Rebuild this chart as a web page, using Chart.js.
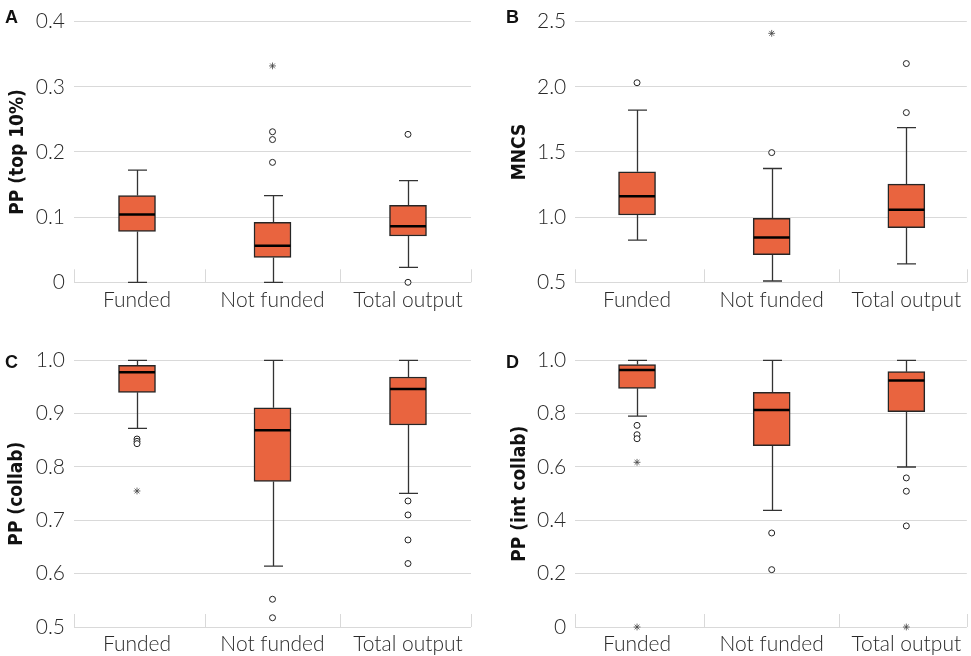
<!DOCTYPE html>
<html>
<head>
<meta charset="utf-8">
<title>Bibliometric indicators: funded vs not funded</title>
<script src="https://cdn.jsdelivr.net/npm/chart.js@4.4.1/dist/chart.umd.min.js"></script>
<style>
  html, body { margin: 0; padding: 0; background: #fff; width: 971px; height: 656px; overflow: hidden; }
  canvas { position: absolute; }
</style>
</head>
<body>
<canvas id="chartA" width="485" height="328" style="left:0;top:0"></canvas>
<canvas id="chartB" width="486" height="328" style="left:485px;top:0"></canvas>
<canvas id="chartC" width="485" height="328" style="left:0;top:328px"></canvas>
<canvas id="chartD" width="486" height="328" style="left:485px;top:328px"></canvas>
<script>
// Groups shown on every panel
const categories = ['Funded', 'Not funded', 'Total output'];

// A: PP (top 10%)
const lowA = [0, 0, 0.023];
const q1A = [0.078, 0.038, 0.071];
const medA = [0.104, 0.056, 0.086];
const q3A = [0.133, 0.092, 0.118];
const highA = [0.172, 0.133, 0.156];
const outA = [[], [0.231, 0.219, 0.184], [0.227, 0]];
const extA = [[], [0.332], []];
const ticksA = ['0', '0.1', '0.2', '0.3', '0.4'];

// B: MNCS
const lowB = [0.824, 0.51, 0.642];
const q1B = [1.016, 0.712, 0.919];
const medB = [1.161, 0.844, 1.056];
const q3B = [1.348, 0.991, 1.253];
const highB = [1.821, 1.373, 1.687];
const outB = [[2.031], [1.495], [2.178, 1.802]];
const extB = [[], [2.41], []];
const ticksB = ['0.5', '1.0', '1.5', '2.0', '2.5'];

// C: PP (collab)
const lowC = [0.8725, 0.614, 0.7506];
const q1C = [0.94, 0.773, 0.8787];
const medC = [0.9775, 0.869, 0.9462];
const q3C = [0.9906, 0.911, 0.9687];
const highC = [1.0, 1.0, 1.0];
const outC = [[0.8524, 0.848, 0.8437], [0.552, 0.5174], [0.7363, 0.7101, 0.6632, 0.619]];
const extC = [[0.755], [], []];
const ticksC = ['0.5', '0.6', '0.7', '0.8', '0.9', '1.0'];

// D: PP (int collab)
const lowD = [0.791, 0.4375, 0.60];
const q1D = [0.895, 0.68, 0.8075];
const medD = [0.964, 0.814, 0.924];
const q3D = [0.984, 0.88, 0.9575];
const highD = [1.0, 1.0, 1.0];
const outD = [[0.756, 0.721, 0.706], [0.3525, 0.215], [0.559, 0.509, 0.379]];
const extD = [[0.6175, 0], [], [0]];
const ticksD = ['0', '0.2', '0.4', '0.6', '0.8', '1.0'];

const BOX_FILL = '#E9643F';
const INK = '#262626';
const GRID = '#d9d9d9';
const TICK_FONT = { family: 'Lato, "Open Sans", sans-serif', size: 21, weight: 300 };
const TITLE_FONT = { family: '"Liberation Sans Narrow", "DejaVu Sans Condensed", "Liberation Sans", sans-serif', size: 19, weight: 'bold' };

// Whiskers, caps, medians, category separators and the panel letter
const boxExtras = {
  id: 'boxExtras',
  beforeDatasetsDraw(chart, args, o) {
    const { ctx, chartArea } = chart;
    const x = chart.scales.x, y = chart.scales.y;
    ctx.save();
    // short separators rising from the baseline
    ctx.strokeStyle = GRID;
    ctx.lineWidth = 1;
    [x.min, 0.5, 1.5, x.max].forEach(v => {
      const px = Math.round(x.getPixelForValue(v)) + 0.5;
      ctx.beginPath();
      ctx.moveTo(px, chartArea.bottom - 13);
      ctx.lineTo(px, chartArea.bottom);
      ctx.stroke();
    });
    // whiskers and caps
    ctx.strokeStyle = '#333';
    ctx.lineWidth = 1.3;
    categories.forEach((c, i) => {
      const cx = Math.round(x.getPixelForValue(i)) + 0.5;
      const yl = y.getPixelForValue(o.low[i]), yh = y.getPixelForValue(o.high[i]);
      const y1 = y.getPixelForValue(o.q1[i]), y3 = y.getPixelForValue(o.q3[i]);
      ctx.beginPath();
      ctx.moveTo(cx, yl); ctx.lineTo(cx, y1);
      ctx.moveTo(cx, y3); ctx.lineTo(cx, yh);
      ctx.moveTo(cx - 9.5, yl); ctx.lineTo(cx + 9.5, yl);
      ctx.moveTo(cx - 9.5, yh); ctx.lineTo(cx + 9.5, yh);
      ctx.stroke();
    });
    ctx.restore();
  },
  afterDatasetsDraw(chart, args, o) {
    const { ctx } = chart;
    const x = chart.scales.x, y = chart.scales.y;
    ctx.save();
    ctx.strokeStyle = '#000';
    ctx.lineWidth = 2.5;
    categories.forEach((c, i) => {
      const cx = x.getPixelForValue(i);
      const ym = y.getPixelForValue(o.med[i]);
      ctx.beginPath();
      ctx.moveTo(cx - 18, ym); ctx.lineTo(cx + 18, ym);
      ctx.stroke();
    });
    ctx.fillStyle = '#111';
    ctx.font = 'bold 18px "Liberation Sans", Arial, sans-serif';
    ctx.textBaseline = 'alphabetic';
    ctx.fillText(o.letter, o.lx, o.ly);
    ctx.restore();
  }
};

function drawPanel(id, p) {
  const boxes = categories.map((c, i) => ({ x: i, y: [p.q1[i], p.q3[i]] }));
  const circles = p.out.flatMap((vals, i) => vals.map(v => ({ x: i, y: v })));
  const stars = p.ext.flatMap((vals, i) => vals.map(v => ({ x: i, y: v })));
  new Chart(document.getElementById(id), {
    type: 'bar',
    data: {
      datasets: [
        { type: 'bar', data: boxes, backgroundColor: BOX_FILL, borderColor: INK, borderWidth: 1.5,
          borderSkipped: false, barThickness: 37 },
        { type: 'scatter', data: circles, pointStyle: 'circle', pointRadius: 3, pointHoverRadius: 3,
          backgroundColor: '#fff', borderColor: '#222', borderWidth: 1, clip: false },
        { type: 'scatter', data: stars, pointStyle: 'star', pointRadius: 3.4, pointHoverRadius: 3.4,
          backgroundColor: '#444', borderColor: '#444', borderWidth: 0.8, clip: false }
      ]
    },
    options: {
      responsive: false,
      animation: false,
      events: [],
      layout: { padding: { top: p.padTop, right: p.padRight, left: 0, bottom: 0 } },
      plugins: {
        legend: { display: false },
        tooltip: { enabled: false },
        boxExtras: { low: p.low, q1: p.q1, med: p.med, q3: p.q3, high: p.high,
                     letter: p.letter, lx: p.lx, ly: p.ly }
      },
      scales: {
        x: {
          type: 'linear', min: p.xMin, max: p.xMax, offset: false,
          afterBuildTicks: s => { s.ticks = categories.map((c, i) => ({ value: i })); },
          afterFit: s => { s.height = p.xHeight; },
          ticks: { callback: v => categories[v], font: TICK_FONT, color: '#2a2a2a', padding: 5,
                   maxRotation: 0, autoSkip: false },
          grid: { display: false, drawTicks: false, offset: false },
          border: { display: false }
        },
        y: {
          type: 'linear', min: p.yMin, max: p.yMax,
          afterFit: s => { s.width = p.yWidth; },
          ticks: { stepSize: p.step, callback: (v, i) => p.ticks[i], font: TICK_FONT, color: '#2a2a2a', padding: 9 },
          grid: { color: GRID, lineWidth: 1, drawTicks: false },
          border: { display: false },
          title: { display: true, text: p.title, font: TITLE_FONT, color: '#111', padding: { top: p.titlePad, bottom: 0 } }
        }
      }
    },
    plugins: [boxExtras]
  });
}

drawPanel('chartA', { low: lowA, q1: q1A, med: medA, q3: q3A, high: highA, out: outA, ext: extA,
  ticks: ticksA, yMin: 0, yMax: 0.4, step: 0.1, title: 'PP (top 10%)', letter: 'A', lx: 5, ly: 23,
  xMin: -0.465, xMax: 2.465, yWidth: 74, xHeight: 45.7, padTop: 15, padRight: 14, titlePad: 7 });

drawPanel('chartB', { low: lowB, q1: q1B, med: medB, q3: q3B, high: highB, out: outB, ext: extB,
  ticks: ticksB, yMin: 0.5, yMax: 2.5, step: 0.5, title: 'MNCS', letter: 'B', lx: 21, ly: 23,
  xMin: -0.4585, xMax: 2.449, yWidth: 90.3, xHeight: 45.7, padTop: 15, padRight: 0, titlePad: 24 });

drawPanel('chartC', { low: lowC, q1: q1C, med: medC, q3: q3C, high: highC, out: outC, ext: extC,
  ticks: ticksC, yMin: 0.5, yMax: 1.0, step: 0.1, title: 'PP (collab)', letter: 'C', lx: 5, ly: 39.5,
  xMin: -0.465, xMax: 2.465, yWidth: 74, xHeight: 29, padTop: 32.3, padRight: 14, titlePad: 6 });

drawPanel('chartD', { low: lowD, q1: q1D, med: medD, q3: q3D, high: highD, out: outD, ext: extD,
  ticks: ticksD, yMin: 0, yMax: 1.0, step: 0.2, title: 'PP (int collab)', letter: 'D', lx: 21, ly: 39.5,
  xMin: -0.4585, xMax: 2.449, yWidth: 90.3, xHeight: 29, padTop: 32.3, padRight: 0, titlePad: 24 });
</script>
</body>
</html>
